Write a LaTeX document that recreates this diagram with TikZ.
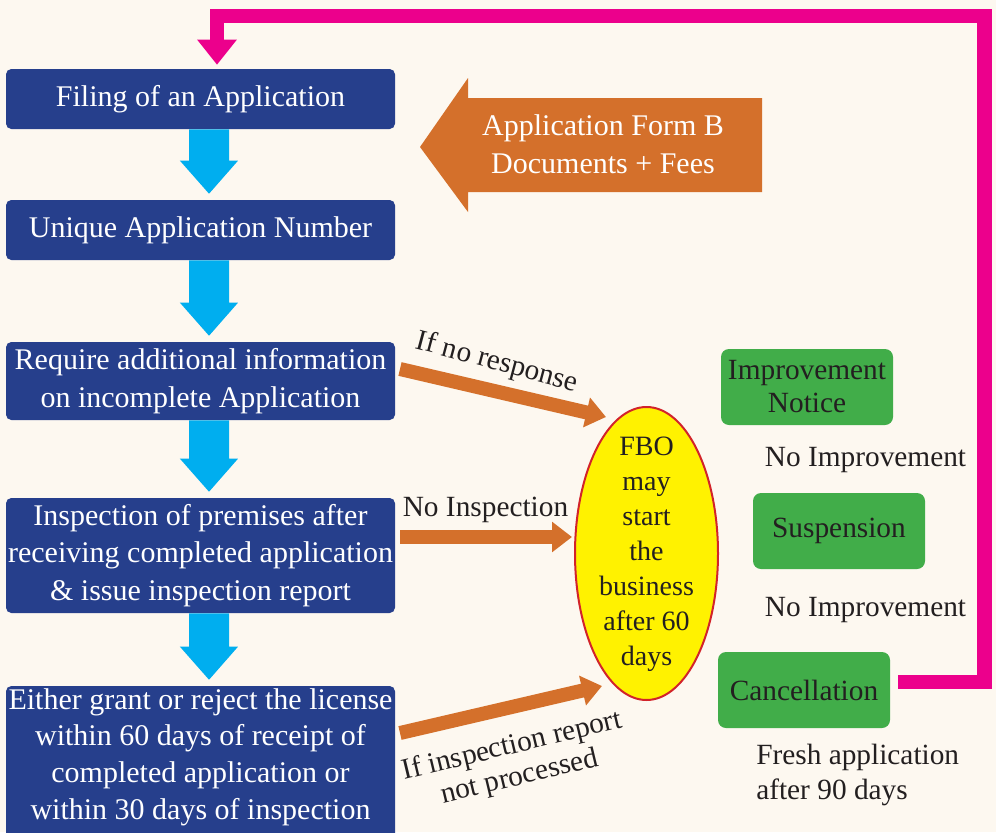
\documentclass[tikz,border=0pt]{standalone}
\usepackage{fontspec}
\setmainfont{Liberation Serif}
\usetikzlibrary{arrows.meta,shapes.geometric,calc}
\definecolor{bg}{HTML}{FDF8F0}
\definecolor{boxblue}{HTML}{263F8C}
\definecolor{arrcyan}{HTML}{00AEEF}
\definecolor{orng}{HTML}{D4702B}
\definecolor{grn}{HTML}{41AD49}
\definecolor{ylw}{HTML}{FFF200}
\definecolor{ered}{HTML}{D2232A}
\definecolor{pnk}{HTML}{EC008C}
\definecolor{txt}{HTML}{231F20}
\newcommand\dnarrow[2]{\fill[arrcyan] let \p1=(#1.south), \p2=(#2.north) in
 (\x1-8.6pt,\y1) -- (\x1+21.4pt,\y1) -- (\x1+21.4pt,\y2+29.25pt) -- (\x1+28.1pt,\y2+29.25pt)
 -- (\x1+6.4pt,\y2+4.5pt) -- (\x1-15.4pt,\y2+29.25pt) -- (\x1-8.6pt,\y2+29.25pt) -- cycle;}
\begin{document}
\begin{tikzpicture}[x=0.75pt,y=-0.75pt,
 bluebox/.style={fill=boxblue, rounded corners=4pt, text=white, align=center, inner sep=0pt, minimum width=291.75pt, font=\fontsize{22.5}{28}\selectfont},
 greenbox/.style={fill=grn, rounded corners=6pt, text=txt, align=center, inner sep=0pt, minimum width=129pt, minimum height=57pt, font=\fontsize{22}{24.75}\selectfont},
 lbl/.style={text=txt, font=\fontsize{22}{26}\selectfont, inner sep=0pt},
 orarrow/.style={draw=orng, line width=10.5pt, -{Triangle[length=15pt,width=22pt]}},
 pinkline/.style={draw=pnk, line width=11pt, -{Triangle[length=18.75pt,width=28.5pt]}},
]
\fill[bg] (0,0) rectangle (996,832);
\useasboundingbox (0,0) rectangle (996,832);

% blue boxes
\node[bluebox, minimum height=45pt] (b1) at (200.5,99) {Filing of an Application};
\node[bluebox, minimum height=45pt] (b2) at (200.5,230) {Unique Application Number};
\node[bluebox, minimum height=58.5pt] (b3) at (200.5,381) {Require additional information\\on incomplete Application};
\node[bluebox, minimum height=86.25pt] (b4) at (200.5,555.5) {Inspection of premises after\\receiving completed application\\\& issue inspection report};
\node[bluebox, minimum height=117pt] (b5) at (200.5,764) {};
\node[text=white, align=center, inner sep=0pt, font=\fontsize{22.5}{27.5}\selectfont] (b5t) at (200.5,757) {Either grant or reject the license\\within 60 days of receipt of\\completed application or\\within 30 days of inspection};

% blue arrows
\dnarrow{b1}{b2}
\dnarrow{b2}{b3}
\dnarrow{b3}{b4}
\dnarrow{b4}{b5}

% big orange arrow
\fill[orng] (420,147) -- (468,78) -- (468,98) -- (762,98) -- (762,192) -- (468,192) -- (468,212) -- cycle;
\node[text=white, align=center, inner sep=0pt, font=\fontsize{22.5}{28.5}\selectfont] (formb) at (603,144) {Application Form B\\Documents + Fees};

% ellipse
\node[ellipse, fill=ylw, draw=ered, line width=1.5pt, minimum width=107.25pt, minimum height=219.75pt, inner sep=0pt] (fbo) at (646.5,553.5) {};
\node[text=txt, align=center, inner sep=0pt, font=\fontsize{21}{26.2}\selectfont] (fbot) at (646.5,554) {FBO\\may\\start\\the\\business\\after 60\\days};

% orange connectors
\coordinate (s1) at (400,369); \coordinate (t1) at (606,417);
\coordinate (s2) at (400,537); \coordinate (t2) at (572,537);
\coordinate (s3) at (400,733); \coordinate (t3) at (602,686);
\draw[orarrow] (s1) -- (t1);
\draw[orarrow] (s2) -- (t2);
\draw[orarrow] (s3) -- (t3);
\node[lbl, rotate=-15] (noresp) at (497,363) {If no response};
\node[lbl] (noinsp) at (485.5,510) {No Inspection};
\node[lbl, rotate=13.5, align=center, font=\fontsize{22}{24}\selectfont] (notproc) at (516,762) {If inspection report\\not processed};

% green boxes
\node[greenbox] (imp) at (807,387) {Improvement\\Notice};
\node[greenbox] (sus) at (839,531) {Suspension};
\node[greenbox] (can) at (804,690) {Cancellation};
\node[lbl] (ni1) at (865.5,460) {No Improvement};
\node[lbl] (ni2) at (865.5,610) {No Improvement};
\node[lbl, anchor=west, align=left, font=\fontsize{22}{26.25}\selectfont] (fresh) at (756,774.5) {Fresh application\\after 90 days};

% pink return line
\draw[pinkline] ($(can.east)+(8,-8)$) -- ++(86,0) |- (217,16) -- ($(b1.north)+(16.5,-4)$);
\end{tikzpicture}
\end{document}
